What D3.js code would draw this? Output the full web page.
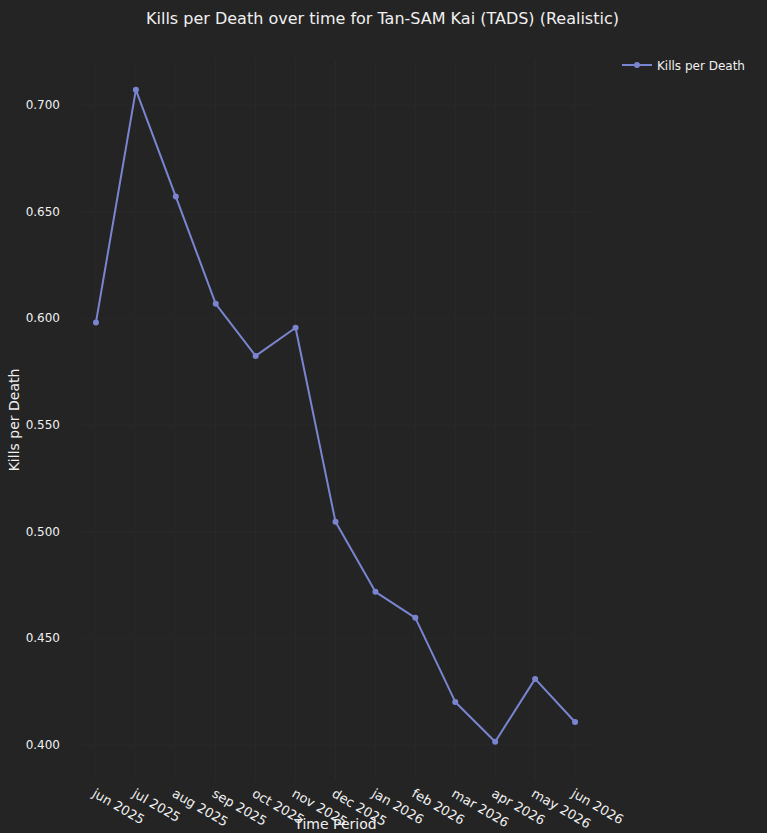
<!DOCTYPE html>
<html>
<head>
<meta charset="utf-8">
<script src="https://cdn.jsdelivr.net/npm/d3@7"></script>
<style>
  body { margin: 0; background: #242424; }
  svg { display: block; font-family: "DejaVu Sans", Verdana, sans-serif; }
</style>
</head>
<body>
<svg id="chart" width="767" height="833"></svg>
<script>
// values
var periods = ["jun 2025", "jul 2025", "aug 2025", "sep 2025", "oct 2025", "nov 2025", "dec 2025",
               "jan 2026", "feb 2026", "mar 2026", "apr 2026", "may 2026", "jun 2026"];
var kpd = [0.598, 0.707, 0.657, 0.6067, 0.5823, 0.5955, 0.5045, 0.4717, 0.4595, 0.4201, 0.4014, 0.4309, 0.4107];
var yTicks = [0.400, 0.450, 0.500, 0.550, 0.600, 0.650, 0.700];
var titleText = "Kills per Death over time for Tan-SAM Kai (TADS) (Realistic)";
var seriesName = "Kills per Death";

var width = 767, height = 833;
var margin = {top: 60, left: 76, right: 172, bottom: 53};
var lineColor = "#7a85d1";
var textColor = "#f0f0f0";

var svg = d3.select("#chart");
svg.append("rect").attr("width", width).attr("height", height).attr("fill", "#242424");

var idx = d3.range(periods.length);
var xScale = d3.scaleLinear()
  .domain([-0.5, periods.length - 0.5])
  .range([margin.left, width - margin.right]);
var yScale = d3.scaleLinear()
  .domain([0.3835, 0.721])
  .range([height - margin.bottom, margin.top]);

// gridlines (very faint)
var grid = svg.append("g");
grid.selectAll("line.gx").data(idx).enter().append("line")
  .attr("x1", function(d) { return xScale(d); })
  .attr("x2", function(d) { return xScale(d); })
  .attr("y1", margin.top).attr("y2", height - margin.bottom)
  .attr("stroke", "#292929").attr("stroke-width", 1);
grid.selectAll("line.gy").data(yTicks).enter().append("line")
  .attr("y1", function(d) { return yScale(d); })
  .attr("y2", function(d) { return yScale(d); })
  .attr("x1", margin.left).attr("x2", width - margin.right)
  .attr("stroke", "#292929").attr("stroke-width", 1);

// y axis
var yAxisCall = d3.axisLeft(yScale).tickValues(yTicks).tickFormat(d3.format(".3f")).tickSize(0).tickPadding(0);
var gy = svg.append("g")
  .attr("transform", "translate(" + (margin.left - 16) + ",0)")
  .call(yAxisCall);
gy.select(".domain").remove();
gy.selectAll("text").attr("fill", textColor).attr("font-size", 12)
  .attr("font-family", "DejaVu Sans").attr("font-weight", "normal");

// x axis
var xAxisCall = d3.axisBottom(xScale).tickValues(idx)
  .tickFormat(function(i) { return periods[i]; }).tickSize(0);
var gx = svg.append("g")
  .attr("transform", "translate(0," + (height - margin.bottom) + ")")
  .call(xAxisCall);
gx.select(".domain").remove();
gx.selectAll("text")
  .attr("fill", textColor).attr("font-size", 13).attr("font-family", "DejaVu Sans")
  .attr("text-anchor", "start")
  .attr("dy", null).attr("y", 0)
  .attr("transform", "translate(-5,16) rotate(30)");

// axis titles
svg.append("text")
  .attr("x", (xScale.range()[0] + xScale.range()[1]) / 2).attr("y", 829)
  .attr("text-anchor", "middle").attr("fill", textColor).attr("font-size", 14)
  .text("Time Period");
svg.append("text")
  .attr("transform", "translate(" + [19, (yScale.range()[0] + yScale.range()[1]) / 2] + ")rotate(-90)")
  .attr("text-anchor", "middle").attr("fill", textColor).attr("font-size", 14)
  .text("Kills per Death");

// title
svg.append("text")
  .attr("x", width / 2 - 1).attr("y", 24)
  .attr("text-anchor", "middle").attr("fill", textColor).attr("font-size", 16)
  .text(titleText);

// line + markers
var line = d3.line()
  .x(function(d, i) { return xScale(i); })
  .y(function(d) { return yScale(d); });
svg.append("path").datum(kpd)
  .attr("fill", "none").attr("stroke", lineColor).attr("stroke-width", 2)
  .attr("stroke-linejoin", "round")
  .attr("d", line);
svg.selectAll("circle.pt").data(kpd).enter().append("circle")
  .attr("cx", function(d, i) { return xScale(i); })
  .attr("cy", function(d) { return yScale(d); })
  .attr("r", 3).attr("fill", lineColor);

// legend
var lg = svg.append("g").attr("transform", "translate(622,65)");
lg.append("line").attr("x1", 0).attr("x2", 30).attr("stroke", lineColor).attr("stroke-width", 2);
lg.append("circle").attr("cx", 15).attr("r", 3).attr("fill", lineColor);
lg.append("text").attr("x", 35).attr("y", 4.5)
  .attr("fill", textColor).attr("font-size", 12)
  .text(seriesName);
</script>
</body>
</html>
